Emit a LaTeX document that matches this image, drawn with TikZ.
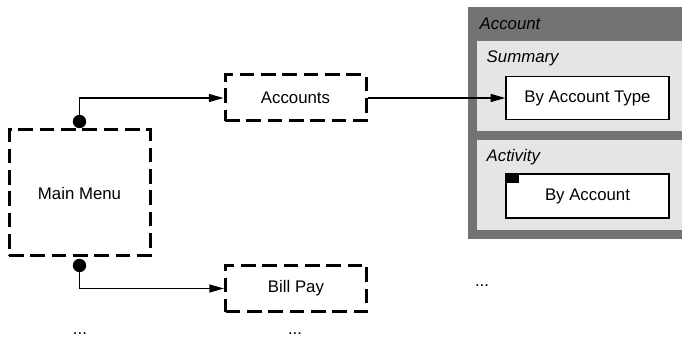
\documentclass[tikz,border=0pt]{standalone}
\usepackage{fontspec}
\setmainfont{Liberation Sans}
\usetikzlibrary{arrows.meta}
\definecolor{panelgray}{HTML}{737373}
\definecolor{subgray}{HTML}{E5E5E5}

\begin{document}
\begin{tikzpicture}[x=0.75pt,y=0.75pt,
  font=\fontsize{12.6}{15}\selectfont,
  menubox/.style={draw,line width=2.25pt,dash pattern=on 11pt off 5pt,minimum width=105.75pt},
  pagebox/.style={draw,fill=white,line width=1.1pt,minimum width=122.25pt,minimum height=32.5pt},
  link/.style={line width=1pt,-{Triangle[length=11pt,width=6pt]}}]
\useasboundingbox (0,0) rectangle (682,342);

\fill[panelgray] (468,103) rectangle (682,335);
\fill[subgray] (477,211) rectangle (682,301);
\fill[subgray] (477,112) rectangle (682,202);
\node (accountlbl) [anchor=west] at (475,318) {\itshape Account};
\node (summarylbl) [anchor=west] at (482,284) {\itshape Summary};
\node (activitylbl) [anchor=west] at (482,185) {\itshape Activity};

\node (bytype) [pagebox] at (587.5,244) {By Account Type};
\node (byacct) [pagebox,minimum height=33pt] at (587.5,146) {By Account};
\fill[black] (byacct.north west) rectangle ++(14,-10);

\node (mainmenu) [menubox,minimum height=94.5pt] at (79.5,149) {Main Menu};
\node (accounts) [menubox,minimum height=34.5pt] at (295.5,244) {Accounts};
\node (billpay) [menubox,minimum height=35pt] at (296,53.5) {Bill Pay};

\coordinate (topdot) at ([yshift=5.25pt]mainmenu.north);
\coordinate (botdot) at ([yshift=-6pt]mainmenu.south);
\fill (topdot) circle (5pt);
\fill (botdot) circle (5pt);
\draw[link] (topdot) |- (accounts.west);
\draw[link] (botdot) |- (billpay.west);
\draw[link] (accounts.east) -- (bytype.west);

\node (moremenu) at (80,8) {...};
\node (morepages) at (295,8) {...};
\node (moreright) at (482,56) {...};
\end{tikzpicture}
\end{document}
